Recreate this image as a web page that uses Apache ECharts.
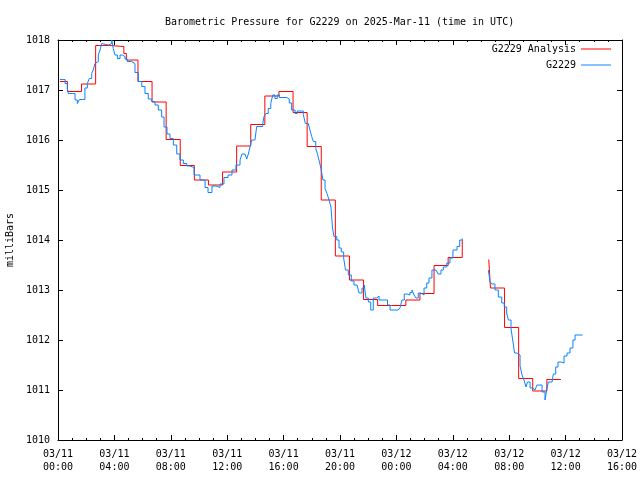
<!DOCTYPE html>
<html><head><meta charset="utf-8">
<script src="https://cdn.jsdelivr.net/npm/echarts@6/dist/echarts.min.js"></script>
<style>html,body{margin:0;padding:0;background:#fff}#c{width:640px;height:480px}</style>
</head><body><div id="c"></div>
<script>
// Hours since 2025-03-11 00:00 UTC
const titleText = 'Barometric Pressure for G2229 on 2025-Mar-11 (time in UTC)';
const yName = 'milliBars';
const analysisName = 'G2229 Analysis';
const obsName = 'G2229';

const analysisHours1 = [0.14,0.67,1.67,2.67,3.67,4.67,4.85,5.67,6.67,7.67,8.67,9.67,10.67,11.67,12.67,13.67,14.67,15.67,16.67,17.67,18.67,19.67,20.67,21.67,22.67,23.67,24.67,25.67,26.67,27.67,28.67];
const analysisVals1  = [1017.17,1016.97,1017.12,1017.89,1017.87,1017.73,1017.6,1017.17,1016.76,1016.01,1015.49,1015.2,1015.1,1015.36,1015.88,1016.31,1016.88,1016.97,1016.55,1015.87,1014.8,1013.68,1013.2,1012.81,1012.69,1012.69,1012.8,1012.93,1013.49,1013.65,1014.0];
const analysisHours2 = [30.55,30.67,31.67,32.67,33.67,34.67,35.67];
const analysisVals2  = [1013.61,1013.04,1012.25,1011.23,1010.98,1011.21,1011.21];

const obsHours1 = [0.14,0.33,0.50,0.66,0.73,1.04,1.21,1.37,1.51,1.72,1.91,2.08,2.22,2.39,2.50,2.62,2.74,2.86,2.98,3.10,3.21,3.57,3.69,3.81,3.92,4.04,4.21,4.40,4.56,4.75,4.91,5.23,5.46,5.70,5.94,6.17,6.40,6.65,6.88,7.11,7.35,7.52,7.73,7.94,8.18,8.42,8.65,8.89,9.13,9.36,9.65,10.07,10.43,10.64,10.92,11.21,11.49,11.77,12.06,12.34,12.62,12.91,13.05,13.26,13.38,13.50,13.62,13.74,13.97,14.09,14.52,14.61,14.75,14.91,15.09,15.23,15.39,15.55,15.70,16.22,16.40,16.57,16.81,16.97,17.40,17.54,17.75,17.87,17.99,18.11,18.28,18.39,18.51,18.65,18.79,18.94,19.08,19.22,19.36,19.47,19.57,19.77,19.93,20.09,20.26,20.39,20.59,20.80,20.99,21.21,21.35,21.56,21.72,21.84,22.01,22.18,22.36,22.60,22.77,23.19,23.37,23.55,24.13,24.26,24.40,24.56,24.75,24.96,25.11,25.25,25.39,25.55,25.74,25.96,26.15,26.31,26.52,26.81,26.95,27.16,27.33,27.57,27.80,28.01,28.30,28.49,28.67];
const obsVals1  = [1017.21,1017.21,1017.13,1017.03,1016.93,1016.93,1016.8,1016.73,1016.81,1016.81,1017.04,1017.13,1017.23,1017.33,1017.4,1017.53,1017.57,1017.7,1017.8,1017.93,1017.9,1017.9,1017.93,1018.0,1017.83,1017.7,1017.63,1017.7,1017.67,1017.62,1017.57,1017.53,1017.35,1017.17,1017.07,1016.93,1016.82,1016.77,1016.7,1016.6,1016.46,1016.26,1016.12,1016.03,1015.9,1015.72,1015.6,1015.53,1015.48,1015.45,1015.3,1015.2,1015.05,1014.95,1015.08,1015.05,1015.12,1015.25,1015.3,1015.4,1015.5,1015.6,1015.72,1015.72,1015.62,1015.72,1015.87,1016.0,1016.0,1016.27,1016.32,1016.47,1016.53,1016.63,1016.73,1016.9,1016.83,1016.9,1016.85,1016.82,1016.74,1016.6,1016.53,1016.58,1016.51,1016.33,1016.33,1016.2,1016.07,1015.97,1015.83,1015.73,1015.6,1015.43,1015.2,1015.03,1014.93,1014.8,1014.66,1014.24,1014.07,1014.0,1013.84,1013.76,1013.64,1013.4,1013.3,1013.18,1013.1,1013.08,1012.94,1013.04,1013.1,1012.84,1012.76,1012.6,1012.84,1012.88,1012.8,1012.8,1012.7,1012.6,1012.6,1012.65,1012.8,1012.92,1012.9,1012.95,1013.0,1012.9,1012.84,1012.94,1012.9,1013.04,1013.14,1013.24,1013.4,1013.38,1013.32,1013.4,1013.46,1013.54,1013.64,1013.8,1013.87,1014.0,1014.03];
const obsHours2 = [30.52,30.64,30.76,30.99,31.23,31.47,31.65,31.82,31.94,32.13,32.27,32.38,32.55,32.77,32.91,33.05,33.19,33.30,33.48,33.65,33.83,33.97,34.18,34.33,34.54,34.66,34.77,35.04,35.13,35.30,35.46,35.67,35.89,36.10,36.31,36.52,36.67,37.21];
const obsVals2  = [1013.4,1013.17,1013.12,1013.0,1012.86,1012.74,1012.66,1012.54,1012.4,1012.22,1011.96,1011.74,1011.7,1011.48,1011.3,1011.2,1011.06,1011.16,1011.04,1011.0,1011.04,1011.1,1011.1,1010.96,1010.8,1011.0,1011.16,1011.2,1011.32,1011.46,1011.56,1011.54,1011.68,1011.74,1011.84,1012.0,1012.1,1012.1];

const xMin = 0, xMax = 40, xStep = 4;
const yMin = 1010, yMax = 1018, yStep = 1;

function pairs(hs, vs){ return hs.map((h,i)=>[h, vs[i]]); }
const analysisData = pairs(analysisHours1, analysisVals1).concat([[null,null]], pairs(analysisHours2, analysisVals2));
const obsData = pairs(obsHours1, obsVals1).concat([[null,null]], pairs(obsHours2, obsVals2));

const FONT = 'DejaVu Sans Mono';
const pad = n => (n < 10 ? '0' : '') + n;
function xLabel(v){
  const d = 11 + Math.floor(v / 24);
  const h = Math.round(v % 24);
  return '03/' + pad(d) + '\n' + pad(h) + ':00';
}
const axisLine = {show:true, onZero:false, lineStyle:{color:'#000', width:1}};
const chart = echarts.init(document.getElementById('c'), null, {renderer:'canvas'});
chart.setOption({
  animation:false,
  backgroundColor:'#fff',
  title:{text:titleText, left:160, top:12, textStyle:{fontFamily:FONT, fontSize:10, fontWeight:'normal', color:'#000'}},
  legend:{
    orient:'vertical', right:29, top:43, align:'right', padding:0,
    icon:'rect', itemWidth:30, itemHeight:1, itemGap:4,
    textStyle:{fontFamily:FONT, fontSize:10, color:'#000', lineHeight:12},
    data:[analysisName, obsName]
  },
  grid:{left:58, right:18, top:40, bottom:40, containLabel:false, outerBoundsMode:'none'},
  xAxis:[
    {type:'value', min:xMin, max:xMax, interval:xStep, position:'bottom',
     axisLine, axisTick:{show:true, inside:true, length:5, lineStyle:{color:'#000'}},
     minorTick:{show:true, splitNumber:4, length:2, lineStyle:{color:'#000'}},
     splitLine:{show:false},
     axisLabel:{margin:8, fontFamily:FONT, fontSize:10, color:'#000', lineHeight:13, formatter:xLabel}},
    {type:'value', min:xMin, max:xMax, interval:xStep, position:'top',
     axisLine, axisTick:{show:true, inside:true, length:5, lineStyle:{color:'#000'}},
     minorTick:{show:true, splitNumber:4, length:2, lineStyle:{color:'#000'}},
     splitLine:{show:false}, axisLabel:{show:false}}
  ],
  yAxis:[
    {type:'value', min:yMin, max:yMax, interval:yStep, position:'left',
     name:yName, nameLocation:'middle', nameGap:38, nameRotate:90,
     nameTextStyle:{fontFamily:FONT, fontSize:10, color:'#000'},
     axisLine, axisTick:{show:true, inside:true, length:5, lineStyle:{color:'#000'}},
     splitLine:{show:false},
     axisLabel:{margin:8, fontFamily:FONT, fontSize:10, color:'#000', formatter:v => String(v)}},
    {type:'value', min:yMin, max:yMax, interval:yStep, position:'right',
     axisLine, axisTick:{show:true, inside:true, length:5, lineStyle:{color:'#000'}},
     splitLine:{show:false}, axisLabel:{show:false}}
  ],
  series:[
    {name:analysisName, type:'line', step:'end', data:analysisData, symbol:'none', connectNulls:false,
     lineStyle:{color:'#ff0000', width:1}, itemStyle:{color:'#ff0000'}, z:2},
    {name:obsName, type:'line', step:'end', data:obsData, symbol:'none', connectNulls:false,
     lineStyle:{color:'#0a84ff', width:1}, itemStyle:{color:'#0a84ff'}, z:3}
  ]
});
</script>
</body></html>
